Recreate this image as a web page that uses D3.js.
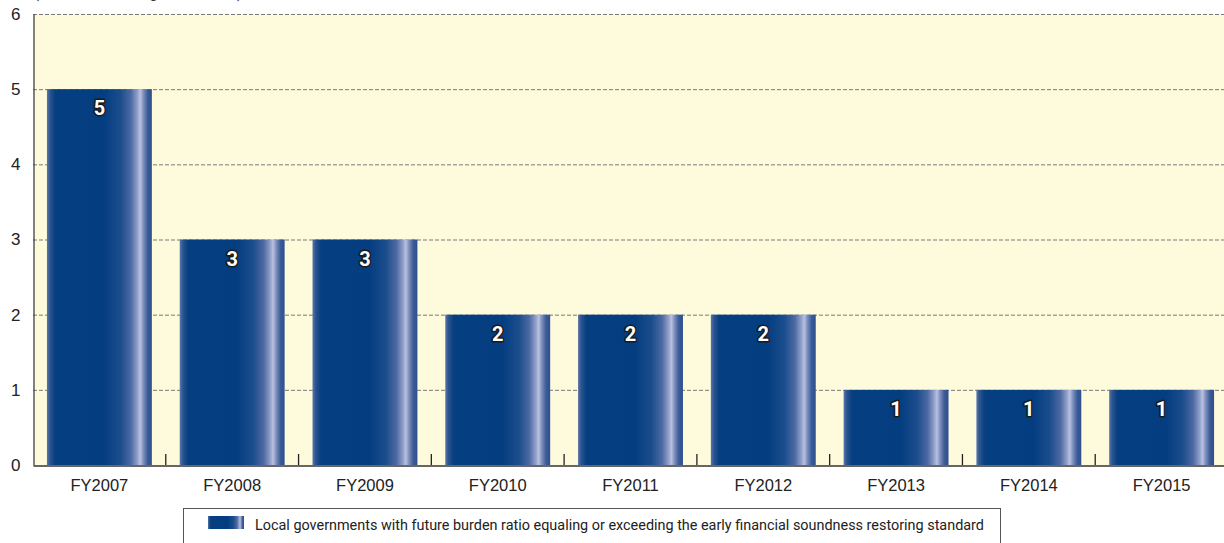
<!DOCTYPE html>
<html>
<head>
<meta charset="utf-8">
<script src="https://cdn.jsdelivr.net/npm/d3@7"></script>
<style>
  html, body { margin: 0; padding: 0; background: #fff; }
  svg { display: block; font-family: "Roboto", "Liberation Sans", sans-serif; }
</style>
</head>
<body>
<svg id="chart" width="1224" height="543"></svg>
<script>
// Fiscal years and number of local governments at or above the standard
const categories = ["FY2007", "FY2008", "FY2009", "FY2010", "FY2011", "FY2012", "FY2013", "FY2014", "FY2015"];
const counts = [5, 3, 3, 2, 2, 2, 1, 1, 1];
const yTicks = [0, 1, 2, 3, 4, 5, 6];
const unitLabel = "(Number of local governments)";
const legendLabel = "Local governments with future burden ratio equaling or exceeding the early financial soundness restoring standard";

const svg = d3.select("#chart");
const margin = { left: 33, top: 14, right: -4, bottom: 78 };
const W = 1224, H = 543;
const x0 = margin.left, x1 = W - margin.right;
const yTop = margin.top, yBot = H - margin.bottom;

const x = d3.scaleBand().domain(categories).range([x0, x1]).paddingInner(0.21).paddingOuter(0.105);
const y = d3.scaleLinear().domain([0, 6]).range([yBot, yTop]);

// bar gradient (cylindrical shading)
const defs = svg.append("defs");
function barGradient(id) {
  const g = defs.append("linearGradient").attr("id", id).attr("x1", 0).attr("x2", 1).attr("y1", 0).attr("y2", 0);
  [[0, "#5a78aa"], [0.03, "#2b5490"], [0.08, "#063f80"], [0.55, "#053e80"], [0.7, "#1b4d8c"],
   [0.8, "#4c69a2"], [0.86, "#8e9dc8"], [0.89, "#b9c1e0"], [0.92, "#7d8fbd"], [0.96, "#3d5c98"], [1, "#2b4f8e"]]
    .forEach(([o, c]) => g.append("stop").attr("offset", o).attr("stop-color", c));
}
barGradient("barGrad");

// plot background
svg.append("rect").attr("x", x0).attr("y", yTop).attr("width", x1 - x0).attr("height", yBot - yTop).attr("fill", "#fefadc");

// unit label (sits above the top edge)
svg.append("text").attr("x", 34).attr("y", -2).attr("font-size", 15).attr("fill", "#333").text(unitLabel);

// gridlines
svg.append("g").selectAll("line").data(yTicks.filter(d => d > 0)).join("line")
  .attr("x1", x0).attr("x2", x1).attr("y1", d => y(d) + 0.5).attr("y2", d => y(d) + 0.5)
  .attr("stroke", "#7a7a7a").attr("stroke-width", 1).attr("stroke-dasharray", "4,2");

// bars
svg.append("g").selectAll("rect").data(categories).join("rect")
  .attr("x", d => x(d)).attr("width", x.bandwidth())
  .attr("y", (d, i) => y(counts[i])).attr("height", (d, i) => y(0) - y(counts[i]))
  .attr("fill", "url(#barGrad)");

// value labels
svg.append("g").selectAll("text").data(categories).join("text")
  .attr("x", d => x(d) + x.bandwidth() / 2)
  .attr("y", (d, i) => y(counts[i]) + 26)
  .attr("text-anchor", "middle").attr("font-size", 20).attr("font-weight", "bold")
  .attr("fill", "#fff").attr("stroke", "#1a1a1a").attr("stroke-width", 3).attr("paint-order", "stroke")
  .attr("stroke-linejoin", "round")
  .text((d, i) => counts[i]);

// y axis
const yAxis = d3.axisLeft(y).tickValues(yTicks).tickSize(0).tickPadding(13).tickFormat(d3.format("d"));
const gy = svg.append("g").attr("transform", `translate(${x0 + 0.5},0)`).call(yAxis);
gy.select(".domain").attr("stroke", "#333").attr("stroke-width", 1.2);
gy.selectAll("text").attr("font-size", 17).attr("fill", "#222").attr("font-family", null);

// x axis with inward ticks between categories
const xAxis = d3.axisBottom(x).tickSize(0).tickPadding(14);
const gx = svg.append("g").attr("transform", `translate(0,${yBot + 0.5})`).call(xAxis);
gx.select(".domain").attr("stroke", "#333").attr("stroke-width", 1.5);
gx.selectAll("text").attr("font-size", 16.5).attr("fill", "#222").attr("font-family", null);
const step = x.step();
svg.append("g").selectAll("line").data(categories.slice(1)).join("line")
  .attr("x1", d => x(d) - (step - x.bandwidth()) / 2).attr("x2", d => x(d) - (step - x.bandwidth()) / 2)
  .attr("y1", yBot).attr("y2", yBot - 11).attr("stroke", "#222").attr("stroke-width", 1.3);

// legend
const lg = svg.append("g");
lg.append("rect").attr("x", 183.5).attr("y", 508.5).attr("width", 817).attr("height", 40)
  .attr("fill", "#fff").attr("stroke", "#555").attr("stroke-width", 1);
lg.append("rect").attr("x", 208).attr("y", 516).attr("width", 36).attr("height", 13).attr("fill", "url(#barGrad)");
lg.append("text").attr("x", 255).attr("y", 529.5).attr("font-size", 15.5).attr("fill", "#222")
  .attr("textLength", 729).attr("lengthAdjust", "spacingAndGlyphs").text(legendLabel);
</script>
</body>
</html>
